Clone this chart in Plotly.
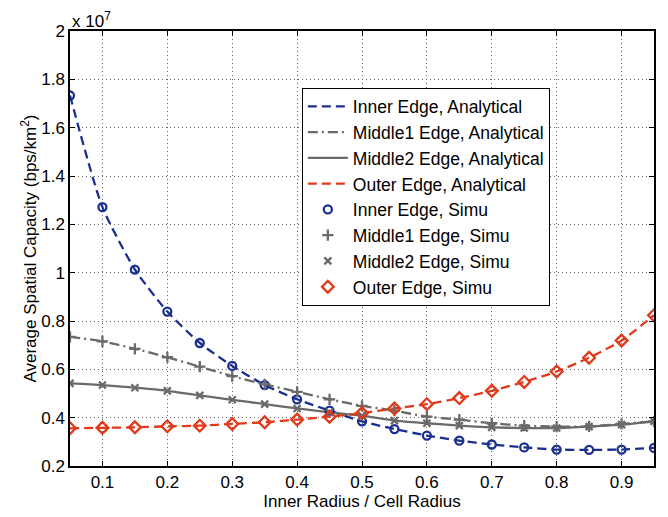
import plotly.graph_objects as go

x = [0.05, 0.10, 0.15, 0.20, 0.25, 0.30, 0.35, 0.40, 0.45, 0.50,
     0.55, 0.60, 0.65, 0.70, 0.75, 0.80, 0.85, 0.90, 0.95]

# values in units of 1e7 bps/km^2
inner = [1.733, 1.271, 1.013, 0.839, 0.709, 0.614, 0.535, 0.476, 0.429, 0.385,
         0.353, 0.326, 0.305, 0.289, 0.277, 0.268, 0.267, 0.268, 0.275]
middle1 = [0.734, 0.716, 0.685, 0.650, 0.611, 0.572, 0.538, 0.507, 0.476, 0.449,
           0.429, 0.404, 0.392, 0.377, 0.367, 0.363, 0.364, 0.374, 0.385]
middle2 = [0.542, 0.535, 0.524, 0.511, 0.492, 0.474, 0.456, 0.438, 0.422, 0.408,
           0.388, 0.377, 0.367, 0.360, 0.357, 0.357, 0.363, 0.371, 0.385]
outer = [0.356, 0.358, 0.360, 0.364, 0.367, 0.374, 0.381, 0.392, 0.404, 0.419,
         0.438, 0.456, 0.481, 0.511, 0.548, 0.591, 0.648, 0.719, 0.824]

x_ticks = [0.1, 0.2, 0.3, 0.4, 0.5, 0.6, 0.7, 0.8, 0.9]
x_ticktext = ["0.1", "0.2", "0.3", "0.4", "0.5", "0.6", "0.7", "0.8", "0.9"]
y_ticks = [0.2, 0.4, 0.6, 0.8, 1.0, 1.2, 1.4, 1.6, 1.8, 2.0]
y_ticktext = ["0.2", "0.4", "0.6", "0.8", "1", "1.2", "1.4", "1.6", "1.8", "2"]

BLUE = "#1a2f8f"
GRAY = "#6a6a6a"
RED = "#e2391b"

fig = go.Figure()
line_specs = [
    ("Inner Edge, Analytical", inner, BLUE, "9px,5px"),
    ("Middle1 Edge, Analytical", middle1, GRAY, "10px,4px,2px,4px"),
    ("Middle2 Edge, Analytical", middle2, GRAY, "solid"),
    ("Outer Edge, Analytical", outer, RED, "9px,5px"),
]
for name, ys, col, dash in line_specs:
    fig.add_trace(go.Scatter(x=x, y=ys, mode="lines", name=name,
                             line=dict(color=col, width=2.3, dash=dash, shape="spline", smoothing=0.6)))

marker_specs = [
    ("Inner Edge, Simu", inner, BLUE, "circle-open", 8),
    ("Middle1 Edge, Simu", middle1, GRAY, "cross-thin-open", 8),
    ("Middle2 Edge, Simu", middle2, GRAY, "x-thin-open", 7),
    ("Outer Edge, Simu", outer, RED, "diamond-open", 9),
]
for name, ys, col, sym, sz in marker_specs:
    fig.add_trace(go.Scatter(x=x, y=ys, mode="markers", name=name,
                             marker=dict(color=col, symbol=sym, size=sz,
                                         line=dict(color=col, width=2.3))))

axis_common = dict(
    showline=True, linecolor="black", linewidth=1.5, mirror="ticks",
    ticks="inside", ticklen=5, tickcolor="black", tickwidth=1,
    showgrid=True, gridcolor="#666666", griddash="1px,3px", gridwidth=1,
    zeroline=False, tickfont=dict(size=17, color="black"),
)

fig.update_layout(
    width=668, height=517,
    margin=dict(l=70, r=14, t=31, b=48),
    paper_bgcolor="white", plot_bgcolor="white",
    font=dict(family="Liberation Sans, Arial, sans-serif", size=17, color="black"),
    xaxis=dict(range=[0.05, 0.95], tickvals=x_ticks, ticktext=x_ticktext,
               title=dict(text="Inner Radius / Cell Radius", font=dict(size=17), standoff=1),
               **axis_common),
    yaxis=dict(range=[0.2, 2.0], tickvals=y_ticks, ticktext=y_ticktext,
               title=dict(text="Average Spatial Capacity (bps/km<sup>2</sup>)", font=dict(size=17), standoff=0),
               **axis_common),
    legend=dict(x=0.397, y=0.870, xanchor="left", yanchor="top",
                bgcolor="white", bordercolor="black", borderwidth=1,
                font=dict(size=17.5), itemwidth=40, tracegroupgap=0),
    showlegend=True,
)

fig.add_annotation(x=0, y=1, xref="paper", yref="paper", xanchor="left", yanchor="bottom",
                   text="x 10<sup>7</sup>", showarrow=False, font=dict(size=17), xshift=0, yshift=-2)

fig.write_html("out.html")
